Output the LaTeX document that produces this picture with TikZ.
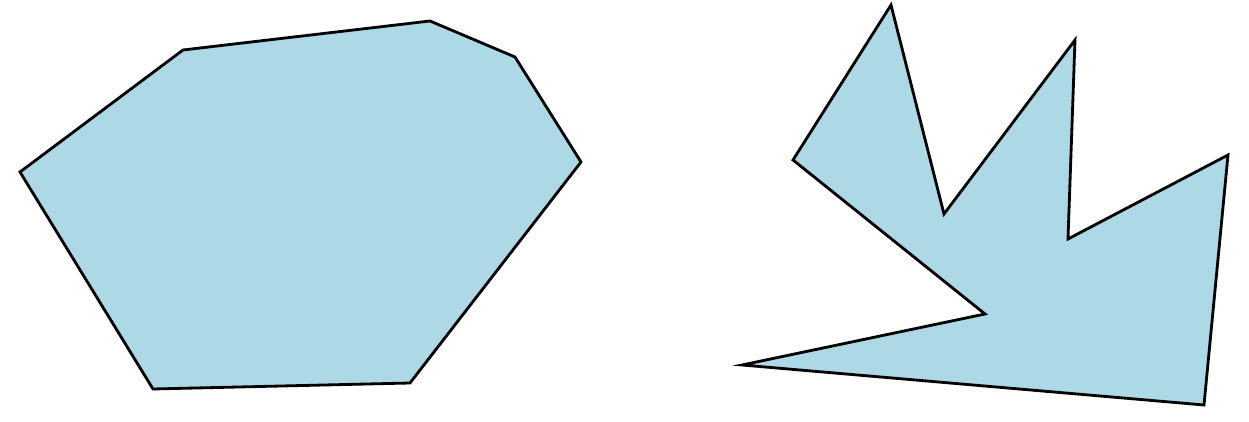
\documentclass[tikz,border=0pt]{standalone}
\usepackage{tikz}
\definecolor{polyblue}{RGB}{173,216,230}
\begin{document}
\begin{tikzpicture}[x=0.02cm,y=-0.02cm,poly/.style={draw=black,fill=polyblue,line width=1.6pt,line join=miter}]
  \useasboundingbox (0,0) rectangle (1249,422);
  % convex polygon
  \draw[poly] (20,172) -- (183,50) -- (430,21) -- (515,57) -- (581,162) -- (410,383) -- (153,389) -- cycle;
  % non-convex polygon
  \draw[poly] (793,160) -- (891,5) -- (944,214) -- (1075,40) -- (1068,239) -- (1228,155) -- (1204,405) -- (742,365) -- (985,314) -- cycle;
\end{tikzpicture}
\end{document}
